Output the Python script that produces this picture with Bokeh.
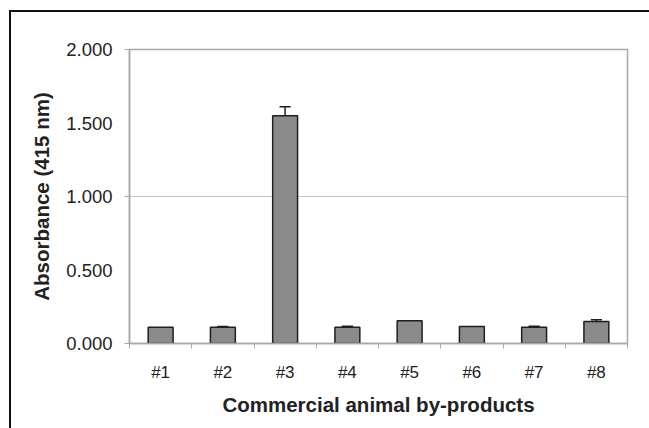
from bokeh.plotting import figure
from bokeh.models import FixedTicker, Range1d
from bokeh.embed import file_html
from bokeh.resources import INLINE

# Absorbance at 415 nm for each commercial animal by-product
categories = ["#1", "#2", "#3", "#4", "#5", "#6", "#7", "#8"]
absorbance = [0.110, 0.110, 1.550, 0.110, 0.155, 0.115, 0.110, 0.150]
std_error = [0.000, 0.005, 0.060, 0.008, 0.000, 0.000, 0.008, 0.012]

y_ticks = [0.0, 0.5, 1.0, 1.5, 2.0]
y_tick_labels = ["0.000", "0.500", "1.000", "1.500", "2.000"]
y_major_marks = [0.0, 1.0, 2.0]

positions = list(range(1, len(categories) + 1))
bar_width = 0.4
cap_width = 0.18

p = figure(
    output_backend="svg",
    toolbar_location=None,
    frame_width=498,
    frame_height=294,
    min_border_left=118,
    min_border_right=22,
    min_border_top=37,
    min_border_bottom=85,
    x_range=Range1d(0.5, len(categories) + 0.5),
    y_range=Range1d(y_ticks[0], y_ticks[-1]),
    background_fill_color="white",
    border_fill_color="white",
)
p.styles = {
    "margin-left": "9px",
    "margin-top": "10px",
    "border-top": "2px solid #111",
    "border-left": "2px solid #111",
}

p.outline_line_color = "#a8a8a8"
p.outline_line_width = 1.5

# bars
p.vbar(x=positions, top=absorbance, width=bar_width, bottom=0,
       fill_color="#8a8a8a", line_color="#1e1e1e", line_width=1.5)

# upper error bars with caps
ex, ey0, ey1, cx0, cx1, cy = [], [], [], [], [], []
for x, v, e in zip(positions, absorbance, std_error):
    if e > 0:
        ex.append(x)
        ey0.append(v)
        ey1.append(v + e)
        cx0.append(x - cap_width / 2)
        cx1.append(x + cap_width / 2)
        cy.append(v + e)
p.segment(x0=ex, y0=ey0, x1=ex, y1=ey1, line_color="#1e1e1e", line_width=1.5)
p.segment(x0=cx0, y0=cy, x1=cx1, y1=cy, line_color="#1e1e1e", line_width=1.5)

# grid
p.xgrid.visible = False
p.ygrid.ticker = FixedTicker(ticks=[1.0])
p.ygrid.grid_line_color = "#c4c4c4"
p.ygrid.grid_line_width = 1.2

# x axis: category labels centred, tick marks between categories
xa = p.xaxis[0]
xa.ticker = FixedTicker(ticks=positions,
                        minor_ticks=[x - 0.5 for x in positions] + [positions[-1] + 0.5])
xa.major_label_overrides = {x: c for x, c in zip(positions, categories)}
xa.major_tick_out = 0
xa.major_tick_in = 0
xa.minor_tick_out = 5
xa.minor_tick_in = 0
xa.minor_tick_line_color = "#a8a8a8"
xa.axis_line_color = "#a8a8a8"
xa.axis_line_width = 1.5
xa.major_label_standoff = 14
xa.major_label_text_font = "Liberation Sans"
xa.major_label_text_font_size = "17px"
xa.major_label_text_color = "#222222"
xa.axis_label = "Commercial animal by-products"
xa.axis_label_text_font = "Liberation Sans"
xa.axis_label_text_font_style = "bold"
xa.axis_label_text_font_size = "20.5px"
xa.axis_label_text_color = "#222222"
xa.axis_label_standoff = 8

# y axis
ya = p.yaxis[0]
ya.ticker = FixedTicker(ticks=y_ticks, minor_ticks=y_major_marks)
ya.major_label_overrides = {t: l for t, l in zip(y_ticks, y_tick_labels)}
ya.major_tick_out = 0
ya.major_tick_in = 0
ya.minor_tick_out = 5
ya.minor_tick_in = 0
ya.minor_tick_line_color = "#a8a8a8"
ya.axis_line_color = "#a8a8a8"
ya.axis_line_width = 1.5
ya.major_label_standoff = 12
ya.major_label_text_font = "Liberation Sans"
ya.major_label_text_font_size = "18.5px"
ya.major_label_text_color = "#222222"
ya.axis_label = "Absorbance (415 nm)"
ya.axis_label_text_font = "Liberation Sans"
ya.axis_label_text_font_style = "bold"
ya.axis_label_text_font_size = "20.5px"
ya.axis_label_text_color = "#222222"
ya.axis_label_standoff = 10

open("out.html", "w").write(file_html(p, INLINE))
